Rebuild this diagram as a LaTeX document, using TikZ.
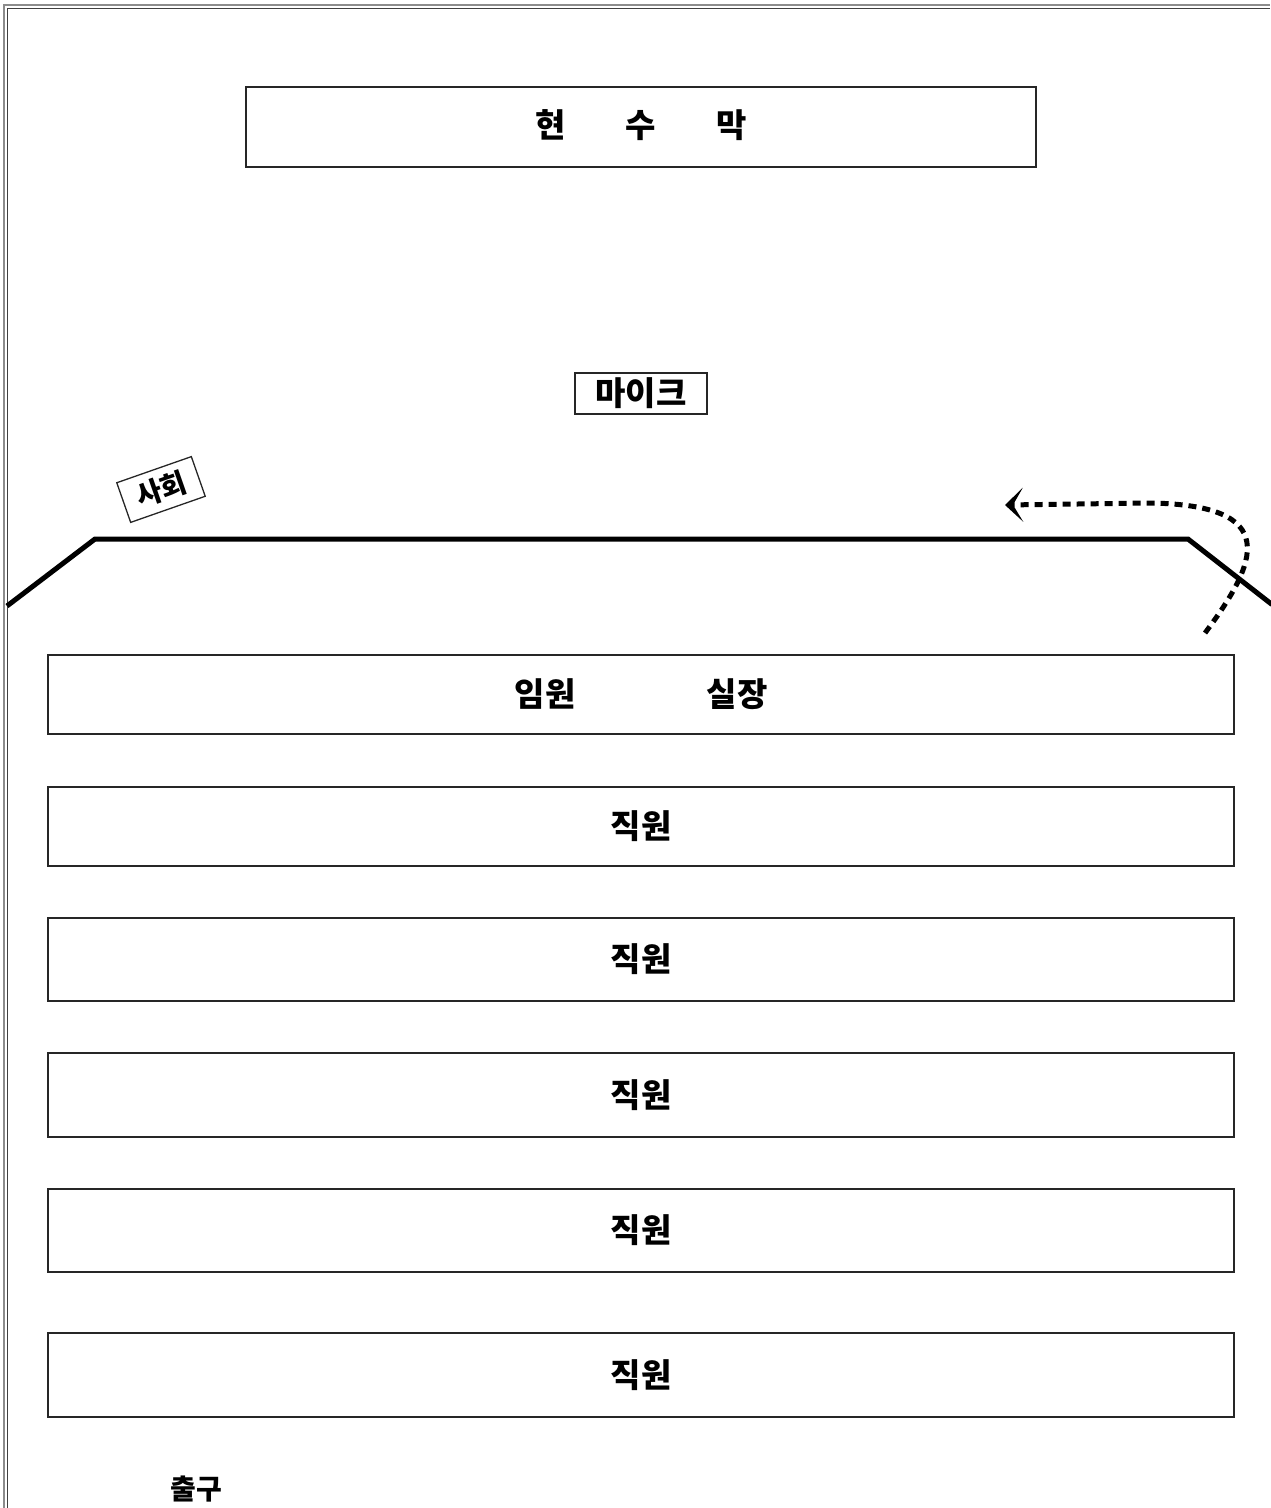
\documentclass[tikz,border=0pt]{standalone}
\usepackage{fontspec}
\setmainfont{Noto Sans CJK KR}
\usetikzlibrary{arrows.meta}
\tikzset{
  frame/.style={draw=black!85, line width=1.3pt, rectangle, inner sep=0pt},
  rowbox/.style={frame, minimum width=1186pt},
  label/.style={inner sep=0pt, font=\fontsize{33}{38}\selectfont\bfseries},
  small/.style={inner sep=0pt, font=\fontsize{28}{32}\selectfont\bfseries},
  stage/.style={line width=5pt, line join=miter},
  walk/.style={line width=5pt, dash pattern=on 8pt off 6pt,
    -{Stealth[length=18pt,width=34pt,inset=10pt]}},
}
\begin{document}
\begin{tikzpicture}[x=1pt,y=-1pt]
\useasboundingbox (0,0) rectangle (1270,1508);
% page border (double line)
\draw[gray!90, line width=2pt] (4,1508) -- (4,5) -- (1270,5);
\draw[black!75, line width=1pt] (7.5,1508) -- (7.5,8.5) -- (1270,8.5);
% banner
\node[frame, minimum width=790pt, minimum height=80pt] (banner) at (641,127) {};
\node[label] (bannertext) at (641,125) {현\hspace{60pt}수\hspace{60pt}막};
% microphone
\node[frame, minimum width=132pt, minimum height=41pt, label] (mic) at (641,393.5) {마이크};
% MC
\node[frame, rotate=19.3, minimum width=79pt, minimum height=42pt, small] (mc) at (161,489.5) {사회};
% stage edge
\coordinate (s1) at (7,606);
\coordinate (s2) at (95,539);
\coordinate (s3) at (1188,539);
\coordinate (s4) at (1272,604.5);
\draw[stage] (s1) -- (s2) -- (s3) -- (s4);
% entrance path
\coordinate (w0) at (1205,633);
\coordinate (w1) at (1150,503);
\coordinate (w2) at (1005,505);
\draw[walk] (w0) .. controls (1258,562) and (1282,505) .. (w1) -- (w2);
% rows
\node[rowbox, minimum height=79pt] (r0) at (641,694.5) {};
\node[label] (exec) at (545,694) {임원};
\node[label] (chief) at (737,694) {실장};
\node[rowbox, minimum height=79pt] (r1) at (641,826.5) {};
\node[label] at (r1) {직원};
\node[rowbox, minimum height=83pt] (r2) at (641,959.5) {};
\node[label] at (r2) {직원};
\node[rowbox, minimum height=84pt] (r3) at (641,1095) {};
\node[label] at (r3) {직원};
\node[rowbox, minimum height=83pt] (r4) at (641,1230.5) {};
\node[label] at (r4) {직원};
\node[rowbox, minimum height=84pt] (r5) at (641,1375) {};
\node[label] at (r5) {직원};
% exit
\node[small] (exit) at (196,1489) {출구};
\end{tikzpicture}
\end{document}
